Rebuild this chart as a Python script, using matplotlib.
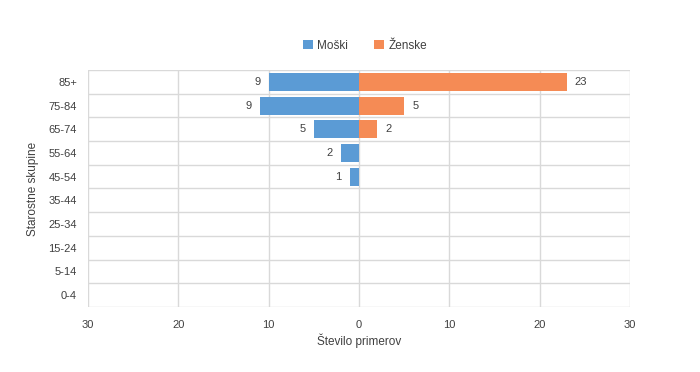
import numpy as np
import matplotlib.pyplot as plt

plt.rcParams['font.family'] = ['Liberation Sans', 'DejaVu Sans']

# podatki
skupine = ["0-4", "5-14", "15-24", "25-34", "35-44", "45-54", "55-64", "65-74", "75-84", "85+"]
moski = [0, 0, 0, 0, 0, 1, 2, 5, 11, 10]          # dolzina stolpcev (kot na sliki)
moski_oznake = ["", "", "", "", "", "1", "2", "5", "9", "9"]
zenske = [0, 0, 0, 0, 0, 0, 0, 2, 5, 23]
zenske_oznake = ["", "", "", "", "", "", "", "2", "5", "23"]

MODRA = "#5B9BD5"
ORANZNA = "#F58B55"
SIVA = "#D9D9D9"
TEKST = "#404040"

fig = plt.figure(figsize=(7, 3.72), dpi=100)
ax = fig.add_axes([88/700, 1 - 307/372, (630-88)/700, (307-70)/372])

y = np.arange(len(skupine))
b1 = ax.barh(y, -np.array(moski), height=0.76, color=MODRA, label="Moški", zorder=3)
b2 = ax.barh(y, zenske, height=0.76, color=ORANZNA, label="Ženske", zorder=3)

for i in range(len(skupine)):
    if moski_oznake[i]:
        ax.text(-moski[i] - 0.9, y[i], moski_oznake[i], ha="right", va="center",
                fontsize=8, color=TEKST)
    if zenske_oznake[i]:
        ax.text(zenske[i] + 0.9, y[i], zenske_oznake[i], ha="left", va="center",
                fontsize=8, color=TEKST)

ax.set_xlim(-30, 30)
ax.set_ylim(-0.5, len(skupine) - 0.5)
ax.set_xticks(np.arange(-30, 31, 10))
ax.set_xticklabels([str(abs(v)) for v in range(-30, 31, 10)])
ax.set_yticks(y)
ax.set_yticklabels(skupine)
ax.set_yticks(np.arange(-0.5, len(skupine), 1), minor=True)

ax.grid(True, axis="x", which="major", color=SIVA, linewidth=1, zorder=0)
ax.grid(True, axis="y", which="minor", color=SIVA, linewidth=1, zorder=0)
ax.tick_params(axis="both", which="both", length=0, labelsize=8, colors=TEKST)
ax.tick_params(axis="x", pad=9)
ax.tick_params(axis="y", pad=8)
for s in ax.spines.values():
    s.set_visible(False)

ax.set_xlabel("Število primerov", fontsize=8.5, color=TEKST, labelpad=3)
ax.set_ylabel("Starostne skupine", fontsize=8.5, color=TEKST, labelpad=7)

fig.legend(handles=[b1, b2], loc="center", bbox_to_anchor=(365/700, 1 - 46/372), ncol=2,
           frameon=False, fontsize=8.5, handlelength=0.8, handleheight=0.8,
           columnspacing=2.2, handletextpad=0.4, labelcolor=TEKST)

fig.savefig("out.png", dpi=100)
